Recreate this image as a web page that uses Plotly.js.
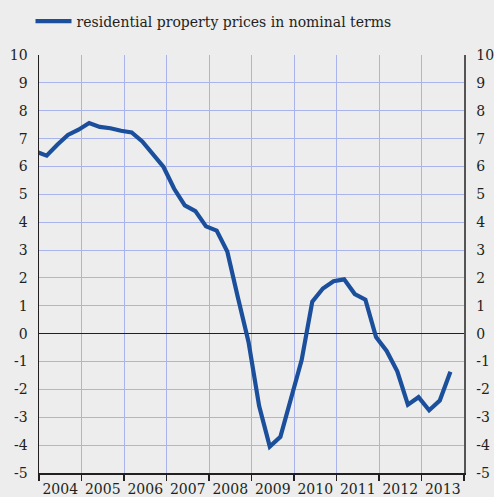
<!DOCTYPE html>
<html>
<head>
<meta charset="utf-8">
<script src="https://cdn.plot.ly/plotly-3.0.1.min.js"></script>
<style>
html,body{margin:0;padding:0;background:#ecedec;}
#chart{width:494px;height:497px;}
</style>
</head>
<body>
<div id="chart"></div>
<script>
// Quarterly observations (decimal year positions) and year-on-year change in %
var periods = [2003.93,2004.18,2004.43,2004.68,2004.93,2005.18,2005.43,2005.68,2005.93,
  2006.18,2006.43,2006.68,2006.93,2007.18,2007.43,2007.68,2007.93,2008.18,2008.43,2008.68,2008.93,
  2009.18,2009.43,2009.68,2009.93,2010.18,2010.43,2010.68,2010.93,2011.18,2011.43,2011.68,2011.93,
  2012.18,2012.43,2012.68,2012.93,2013.18,2013.43,2013.68];
var nominalPrices = [6.53,6.39,6.78,7.13,7.32,7.56,7.42,7.37,7.28,
  7.22,6.90,6.42,5.98,5.20,4.60,4.40,3.85,3.70,2.95,1.30,-0.30,
  -2.60,-4.05,-3.70,-2.35,-0.95,1.15,1.62,1.88,1.95,1.42,1.22,-0.12,
  -0.62,-1.35,-2.55,-2.28,-2.75,-2.40,-1.37];
var yearLabels = ['2004','2005','2006','2007','2008','2009','2010','2011','2012','2013'];
var yearCentres = [2004.5,2005.5,2006.5,2007.5,2008.5,2009.5,2010.5,2011.5,2012.5,2013.5];
var yTickVals = [-5,-4,-3,-2,-1,0,1,2,3,4,5,6,7,8,9,10];
var yTickLabels = ['-5','-4','-3','-2','-1','0','1','2','3','4','5','6','7','8','9','10'];
var seriesName = 'residential property prices in nominal terms';

var font = {family:'DejaVu Serif', size:14, color:'#231f20'};
var gridColor = '#aab4ec';

var traces = [
  {x:periods, y:nominalPrices, type:'scatter', mode:'lines', name:seriesName,
   line:{color:'#1b4f9c', width:4.2}, hoverinfo:'x+y'},
  {x:periods, y:nominalPrices, type:'scatter', mode:'lines', yaxis:'y2', showlegend:false,
   line:{color:'rgba(0,0,0,0)', width:0}, hoverinfo:'skip'}
];

var layout = {
  width:494, height:497,
  paper_bgcolor:'#ecedec', plot_bgcolor:'#ecedec',
  font:font,
  margin:{l:39, r:30, t:55, b:24, autoexpand:false},
  showlegend:true,
  legend:{x:-0.02, y:1.08, xanchor:'left', yanchor:'middle', orientation:'h',
          bgcolor:'rgba(0,0,0,0)', font:font, itemwidth:36},
  xaxis:{range:[2004,2014], tickmode:'array', tickvals:yearCentres, ticktext:yearLabels,
         ticks:'', showgrid:false, zeroline:false, showline:true, linecolor:'#231f20', linewidth:1.5,
         tickfont:font, ticklabelstandoff:3, automargin:false,
         minor:{tick0:2004, dtick:1, ticks:'outside', ticklen:6, tickcolor:'#231f20', tickwidth:1.5,
                showgrid:true, gridcolor:gridColor, gridwidth:1}},
  yaxis:{range:[-5,10], tickmode:'array', tickvals:yTickVals, ticktext:yTickLabels,
         showgrid:true, gridcolor:gridColor, gridwidth:1,
         zeroline:true, zerolinecolor:'#231f20', zerolinewidth:1.5, automargin:false,
         showline:true, linecolor:'#231f20', linewidth:1.5, ticks:'', tickfont:font, ticklabelstandoff:7},
  yaxis2:{range:[-5,10], tickmode:'array', tickvals:yTickVals, ticktext:yTickLabels,
          overlaying:'y', side:'right',
          showgrid:false, zeroline:false, showline:true, linecolor:'#555555', linewidth:1.5,
          ticks:'', tickfont:font, ticklabelstandoff:8, automargin:false}
};

Plotly.newPlot('chart', traces, layout, {displayModeBar:false, staticPlot:true});
</script>
</body>
</html>
